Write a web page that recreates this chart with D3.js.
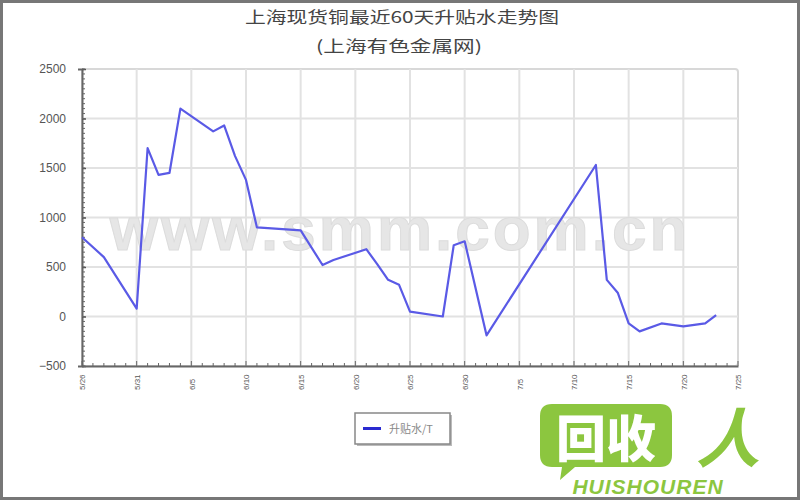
<!DOCTYPE html>
<html><head><meta charset="utf-8">
<script src="https://cdn.jsdelivr.net/npm/d3@7"></script>
<style>body{margin:0;background:#fff}svg{display:block}</style>
</head><body>
<svg id="c" width="800" height="500"></svg>
<script>
const titleLines = ["上海现货铜最近60天升贴水走势图", "(上海有色金属网)"];
const seriesName = "升贴水/T";
const days = [0,2,5,6,7,8,9,12,13,14,15,16,20,22,23,26,27,28,29,30,33,34,35,37,47,48,49,50,51,53,55,57,58];
const values = [800,600,80,1700,1430,1450,2100,1870,1930,1620,1380,900,870,520,570,680,530,370,320,50,0,720,760,-190,1530,370,240,-70,-150,-70,-100,-70,15];
const xTickDays = [0,5,10,15,20,25,30,35,40,45,50,55,60];
const xTickLabels = ["5/26","5/31","6/5","6/10","6/15","6/20","6/25","6/30","7/5","7/10","7/15","7/20","7/25"];
const yTicks = [-500,0,500,1000,1500,2000,2500];

const svg = d3.select("#c");
const L = 82, R = 738, T = 69, B = 366;
const x = d3.scaleLinear().domain([0,60]).range([L,R]);
const y = d3.scaleLinear().domain([-500,2500]).range([B,T]);

// outer frame
svg.append("rect").attr("x",1.5).attr("y",1.5).attr("width",797).attr("height",497)
  .attr("fill","#fff").attr("stroke","#777").attr("stroke-width",3);

// title
const tw = [314, 166];
const tby = [23, 52];
svg.selectAll("text.title").data(titleLines).enter().append("text")
  .attr("x",(d,i)=>i===0?245:316).attr("y",(d,i)=>tby[i])
  .attr("textLength",(d,i)=>tw[i]).attr("lengthAdjust","spacingAndGlyphs")
  .attr("font-family","Noto Sans CJK SC").attr("font-size",16).attr("font-weight","normal")
  .attr("fill","#444").text(d=>d);

// plot background frame
svg.append("rect").attr("x",L).attr("y",T).attr("width",R-L).attr("height",B-T)
  .attr("rx",3).attr("fill","#fff").attr("stroke","#d8d8d8").attr("stroke-width",2);

// grid
svg.append("g").selectAll("line").data(yTicks.slice(1,-1)).enter().append("line")
  .attr("x1",L).attr("x2",R).attr("y1",d=>y(d)).attr("y2",d=>y(d))
  .attr("stroke","#e2e2e2").attr("stroke-width",2);
svg.append("g").selectAll("line").data(xTickDays.slice(1,-1)).enter().append("line")
  .attr("y1",T).attr("y2",B).attr("x1",d=>x(d)).attr("x2",d=>x(d))
  .attr("stroke","#e2e2e2").attr("stroke-width",2);

// watermark
svg.append("text").attr("x",400).attr("y",250).attr("text-anchor","middle")
  .attr("font-family","Liberation Sans").attr("font-weight","bold").attr("font-size",62)
  .attr("letter-spacing",3).attr("fill","#e6e6e6").attr("stroke","#dcdcdc").attr("stroke-width",1)
  .text("www.smm.com.cn");

// axes
const yAxis = d3.axisLeft(y).tickValues(yTicks).tickFormat(d3.format("d")).tickSize(4).tickPadding(12);
const gy = svg.append("g").attr("transform",`translate(${L},0)`).call(yAxis);
gy.select(".domain").attr("stroke","#666").attr("stroke-width",2);
gy.selectAll(".tick line").attr("stroke","#555").attr("stroke-width",1.5).attr("x2",4).attr("x1",0);
gy.selectAll("text").attr("font-family","Liberation Sans").attr("font-size",12).attr("fill","#555");
const yMinor = d3.range(-500,2501,50);
svg.append("g").selectAll("line").data(yMinor).enter().append("line")
  .attr("x1",L).attr("x2",L+3).attr("y1",d=>y(d)).attr("y2",d=>y(d))
  .attr("stroke","#666").attr("stroke-width",1);

const xAxis = d3.axisBottom(x).tickValues(xTickDays).tickFormat((d,i)=>xTickLabels[i]).tickSize(0).tickPadding(6);
const gx = svg.append("g").attr("transform",`translate(0,${B})`).call(xAxis);
gx.select(".domain").attr("stroke","#666").attr("stroke-width",2);
gx.selectAll(".tick text").attr("font-family","Liberation Sans").attr("font-size",8).attr("fill","#555")
  .attr("transform","rotate(-90)").attr("dy","0.35em")
  .attr("x",-24).attr("y",0).attr("text-anchor","start");
const xMinor = d3.range(0,61,1);
svg.append("g").selectAll("line").data(xMinor).enter().append("line")
  .attr("x1",d=>x(d)).attr("x2",d=>x(d)).attr("y1",B).attr("y2",d=>d%5===0?B-5:B-3)
  .attr("stroke","#666").attr("stroke-width",1);

// line
const line = d3.line().x((d,i)=>x(days[i])).y(d=>y(d));
svg.append("path").datum(values).attr("d",line).attr("fill","none")
  .attr("stroke","#5a5ae6").attr("stroke-width",2.2).attr("stroke-linejoin","round");

// legend
const lg = svg.append("g").attr("transform","translate(355,413)");
lg.append("rect").attr("x",2).attr("y",2).attr("width",95).attr("height",31).attr("fill","#bbb");
lg.append("rect").attr("x",0).attr("y",0).attr("width",95).attr("height",31).attr("fill","#fff").attr("stroke","#888").attr("stroke-width",1.5);
lg.append("line").attr("x1",8).attr("x2",26).attr("y1",15.5).attr("y2",15.5).attr("stroke","#2a2ad0").attr("stroke-width",3);
lg.append("text").attr("x",34).attr("y",20).attr("font-family","Noto Sans CJK SC").attr("font-size",11)
  .attr("fill","#888").text(seriesName);

// logo
const lo = svg.append("g");
lo.append("path").attr("d","M552,404 H660 Q672,404 672,416 V455 Q672,467 660,467 H575 L560,480 L562,467 H552 Q540,467 540,455 V416 Q540,404 552,404 Z").attr("fill","#8cc63f");
lo.append("text").attr("x",606).attr("y",457).attr("text-anchor","middle")
  .attr("font-family","Noto Sans CJK SC").attr("font-weight","900").attr("font-size",50).attr("fill","#fff").text("回收");
lo.append("text").attr("x",728).attr("y",462).attr("text-anchor","middle")
  .attr("font-family","Noto Sans CJK SC").attr("font-weight","bold").attr("font-size",64).attr("fill","#8cc63f").attr("font-style","italic").text("人");
lo.append("text").attr("x",648).attr("y",494).attr("text-anchor","middle")
  .attr("font-family","Liberation Sans").attr("font-weight","bold").attr("font-style","italic").attr("font-size",21)
  .attr("letter-spacing",1).attr("fill","#8cc63f").text("HUISHOUREN");
</script>
</body></html>
